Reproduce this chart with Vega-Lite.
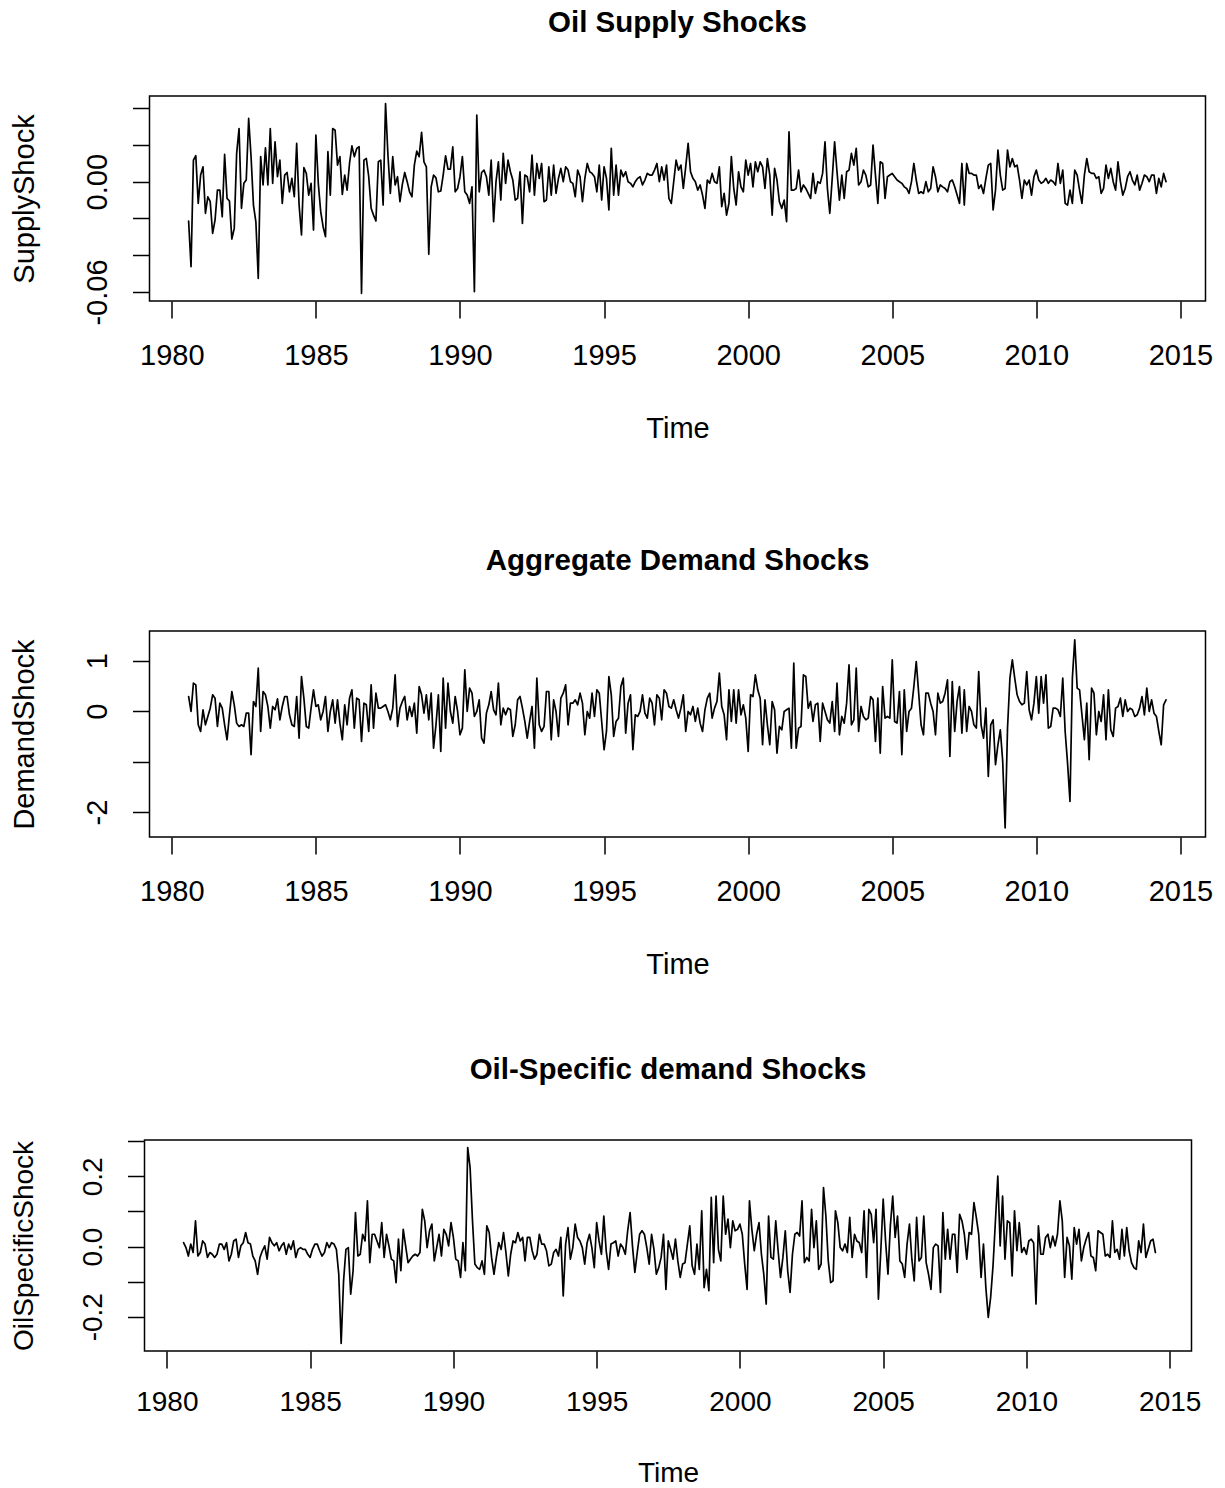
{
"$schema": "https://vega.github.io/schema/vega-lite/v6.json",
"background": "white",
"padding": {"left": 2.5, "top": 6, "right": 5, "bottom": 0},
"autosize": {"type": "pad"},
"data": {"values": [
{"t":1980.583,"a":-0.0214,"b":0.29,"c":0.011},
{"t":1980.667,"a":-0.0462,"b":-0.007,"c":-0.003},
{"t":1980.75,"a":0.0117,"b":0.554,"c":-0.027},
{"t":1980.833,"a":0.0141,"b":0.521,"c":0.007},
{"t":1980.917,"a":-0.0118,"b":-0.271,"c":-0.017},
{"t":1981,"a":0.0036,"b":-0.403,"c":0.073},
{"t":1981.083,"a":0.0081,"b":0.026,"c":-0.027},
{"t":1981.167,"a":-0.0172,"b":-0.271,"c":-0.017},
{"t":1981.25,"a":-0.0082,"b":-0.106,"c":0.016},
{"t":1981.333,"a":-0.0109,"b":0.059,"c":0.007},
{"t":1981.417,"a":-0.0281,"b":0.323,"c":-0.031},
{"t":1981.5,"a":-0.0209,"b":0.257,"c":-0.017},
{"t":1981.583,"a":-0.0046,"b":-0.304,"c":-0.022},
{"t":1981.667,"a":-0.0046,"b":0.158,"c":-0.031},
{"t":1981.75,"a":-0.0191,"b":0.059,"c":-0.022},
{"t":1981.833,"a":0.0148,"b":-0.271,"c":0.007},
{"t":1981.917,"a":-0.0091,"b":-0.568,"c":0.007},
{"t":1982,"a":-0.0105,"b":-0.073,"c":-0.008},
{"t":1982.083,"a":-0.0312,"b":0.389,"c":0.011},
{"t":1982.167,"a":-0.0254,"b":0.125,"c":-0.041},
{"t":1982.25,"a":0.0154,"b":-0.238,"c":-0.022},
{"t":1982.333,"a":0.0289,"b":-0.304,"c":0.016},
{"t":1982.417,"a":-0.0145,"b":-0.271,"c":0.021},
{"t":1982.5,"a":-0.0009,"b":-0.304,"c":-0.031},
{"t":1982.583,"a":0.0009,"b":-0.04,"c":0.002},
{"t":1982.667,"a":0.0344,"b":-0.04,"c":0.011},
{"t":1982.75,"a":0.0136,"b":-0.865,"c":0.04},
{"t":1982.833,"a":-0.0127,"b":0.191,"c":0.011},
{"t":1982.917,"a":-0.0218,"b":0.092,"c":0.007},
{"t":1983,"a":-0.0526,"b":0.851,"c":-0.027},
{"t":1983.083,"a":0.0136,"b":-0.403,"c":-0.041},
{"t":1983.167,"a":-0.0018,"b":0.389,"c":-0.079},
{"t":1983.25,"a":0.0184,"b":0.323,"c":-0.031},
{"t":1983.333,"a":-0.0018,"b":0.092,"c":-0.012},
{"t":1983.417,"a":0.0289,"b":-0.337,"c":0.002},
{"t":1983.5,"a":-0.0009,"b":0.092,"c":-0.036},
{"t":1983.583,"a":0.0217,"b":0.026,"c":0.026},
{"t":1983.667,"a":0.0027,"b":0.244,"c":0.011},
{"t":1983.75,"a":0.0117,"b":-0.172,"c":0.002},
{"t":1983.833,"a":-0.0118,"b":0.092,"c":0.011},
{"t":1983.917,"a":0.0036,"b":0.29,"c":-0.012},
{"t":1984,"a":0.005,"b":0.29,"c":0.002},
{"t":1984.083,"a":-0.0055,"b":-0.073,"c":0.011},
{"t":1984.167,"a":0.0018,"b":-0.271,"c":-0.022},
{"t":1984.25,"a":-0.0082,"b":-0.304,"c":0.007},
{"t":1984.333,"a":0.0208,"b":0.29,"c":-0.008},
{"t":1984.417,"a":-0.0127,"b":-0.535,"c":0.016},
{"t":1984.5,"a":-0.029,"b":0.686,"c":-0.031},
{"t":1984.583,"a":0.0076,"b":0.257,"c":-0.008},
{"t":1984.667,"a":0.0045,"b":-0.304,"c":-0.003},
{"t":1984.75,"a":-0.0073,"b":-0.337,"c":-0.008},
{"t":1984.833,"a":-0.0009,"b":0.059,"c":-0.008},
{"t":1984.917,"a":-0.0263,"b":0.422,"c":-0.022},
{"t":1985,"a":0.0253,"b":0.092,"c":-0.031},
{"t":1985.083,"a":-0.0009,"b":0.125,"c":-0.008},
{"t":1985.167,"a":-0.0163,"b":-0.172,"c":0.007},
{"t":1985.25,"a":-0.0245,"b":-0.007,"c":0.007},
{"t":1985.333,"a":-0.0299,"b":0.29,"c":-0.012},
{"t":1985.417,"a":0.0163,"b":-0.403,"c":-0.027},
{"t":1985.5,"a":-0.0073,"b":-0.007,"c":-0.017},
{"t":1985.583,"a":0.0289,"b":0.224,"c":0.011},
{"t":1985.667,"a":0.028,"b":-0.238,"c":-0.003},
{"t":1985.75,"a":0.009,"b":0.224,"c":0.011},
{"t":1985.833,"a":0.0136,"b":-0.238,"c":0.007},
{"t":1985.917,"a":-0.0069,"b":-0.568,"c":-0.008},
{"t":1986,"a":0.0036,"b":0.125,"c":-0.079},
{"t":1986.083,"a":-0.0046,"b":-0.271,"c":-0.276},
{"t":1986.167,"a":0.0099,"b":0.257,"c":-0.098},
{"t":1986.25,"a":0.0195,"b":0.422,"c":-0.008},
{"t":1986.333,"a":0.0136,"b":-0.337,"c":-0.003},
{"t":1986.417,"a":0.0181,"b":0.257,"c":-0.136},
{"t":1986.5,"a":0.019,"b":0.224,"c":-0.069},
{"t":1986.583,"a":-0.0607,"b":-0.601,"c":0.097},
{"t":1986.667,"a":0.0117,"b":0.158,"c":-0.027},
{"t":1986.75,"a":0.0126,"b":0.125,"c":-0.022},
{"t":1986.833,"a":0.0027,"b":-0.403,"c":0.035},
{"t":1986.917,"a":-0.0145,"b":0.521,"c":0.016},
{"t":1987,"a":-0.0182,"b":-0.337,"c":0.13},
{"t":1987.083,"a":-0.0214,"b":0.356,"c":-0.046},
{"t":1987.167,"a":0.0108,"b":0.059,"c":0.035},
{"t":1987.25,"a":0.0117,"b":0.059,"c":0.035},
{"t":1987.333,"a":-0.0127,"b":0.092,"c":0.016},
{"t":1987.417,"a":0.0425,"b":0.125,"c":-0.003},
{"t":1987.5,"a":0.0145,"b":-0.007,"c":0.068},
{"t":1987.583,"a":-0.0064,"b":-0.172,"c":-0.031},
{"t":1987.667,"a":0.0136,"b":0.059,"c":0.035},
{"t":1987.75,"a":-0.0018,"b":0.719,"c":0.002},
{"t":1987.833,"a":0.0027,"b":-0.304,"c":-0.036},
{"t":1987.917,"a":-0.0109,"b":0.059,"c":-0.041},
{"t":1988,"a":-0.0015,"b":0.191,"c":-0.103},
{"t":1988.083,"a":0.005,"b":0.29,"c":0.021},
{"t":1988.167,"a":0,"b":-0.172,"c":-0.069},
{"t":1988.25,"a":-0.0055,"b":0.092,"c":0.049},
{"t":1988.333,"a":-0.0082,"b":-0.106,"c":0.002},
{"t":1988.417,"a":0.009,"b":0.158,"c":-0.046},
{"t":1988.5,"a":0.0166,"b":-0.436,"c":-0.036},
{"t":1988.583,"a":0.0136,"b":0.488,"c":-0.027},
{"t":1988.667,"a":0.0268,"b":0.323,"c":-0.022},
{"t":1988.75,"a":0.0108,"b":-0.04,"c":-0.027},
{"t":1988.833,"a":0.0081,"b":0.323,"c":-0.017},
{"t":1988.917,"a":-0.0395,"b":-0.172,"c":0.106},
{"t":1989,"a":-0.0028,"b":0.356,"c":0.073},
{"t":1989.083,"a":0.0036,"b":-0.733,"c":-0.003},
{"t":1989.167,"a":0.0021,"b":-0.271,"c":0.045},
{"t":1989.25,"a":-0.0055,"b":0.323,"c":0.064},
{"t":1989.333,"a":-0.0051,"b":-0.799,"c":-0.041},
{"t":1989.417,"a":0.0036,"b":0.653,"c":-0.003},
{"t":1989.5,"a":0.0141,"b":-0.337,"c":0.035},
{"t":1989.583,"a":0.0068,"b":0.554,"c":-0.027},
{"t":1989.667,"a":0.0068,"b":-0.007,"c":0.049},
{"t":1989.75,"a":0.019,"b":-0.238,"c":0.035},
{"t":1989.833,"a":-0.0055,"b":0.29,"c":0.002},
{"t":1989.917,"a":-0.0037,"b":-0.007,"c":0.068},
{"t":1990,"a":0.0027,"b":-0.469,"c":0.026},
{"t":1990.083,"a":0.0136,"b":-0.337,"c":-0.036},
{"t":1990.167,"a":-0.0055,"b":0.818,"c":-0.041},
{"t":1990.25,"a":-0.0073,"b":-0.007,"c":-0.088},
{"t":1990.333,"a":-0.0118,"b":0.455,"c":0.011},
{"t":1990.417,"a":-0.0028,"b":0.356,"c":-0.069},
{"t":1990.5,"a":-0.0598,"b":-0.106,"c":0.282},
{"t":1990.583,"a":0.0362,"b":-0.007,"c":0.225},
{"t":1990.667,"a":-0.0055,"b":0.224,"c":0.073},
{"t":1990.75,"a":0.005,"b":-0.535,"c":-0.05},
{"t":1990.833,"a":0.0063,"b":-0.634,"c":-0.06},
{"t":1990.917,"a":0.0027,"b":-0.04,"c":-0.065},
{"t":1991,"a":-0.0073,"b":0.125,"c":-0.041},
{"t":1991.083,"a":0.0117,"b":0.389,"c":-0.079},
{"t":1991.167,"a":-0.0218,"b":0.026,"c":0.059},
{"t":1991.25,"a":0,"b":-0.073,"c":0.04},
{"t":1991.333,"a":0.0108,"b":0.554,"c":-0.031},
{"t":1991.417,"a":-0.01,"b":-0.271,"c":-0.079},
{"t":1991.5,"a":0.0154,"b":0.059,"c":-0.031},
{"t":1991.583,"a":-0.0009,"b":-0.073,"c":0.011},
{"t":1991.667,"a":0.0117,"b":0.059,"c":-0.008},
{"t":1991.75,"a":0.0054,"b":0.026,"c":0.04},
{"t":1991.833,"a":0.0009,"b":-0.502,"c":-0.017},
{"t":1991.917,"a":-0.01,"b":-0.271,"c":-0.084},
{"t":1992,"a":-0.0091,"b":0.224,"c":-0.022},
{"t":1992.083,"a":0.0054,"b":0.29,"c":0.016},
{"t":1992.167,"a":-0.0227,"b":0.059,"c":0.011},
{"t":1992.25,"a":0.0036,"b":-0.205,"c":0.04},
{"t":1992.333,"a":0.0027,"b":-0.535,"c":0.016},
{"t":1992.417,"a":-0.0055,"b":-0.205,"c":0.026},
{"t":1992.5,"a":0.0145,"b":0.092,"c":-0.041},
{"t":1992.583,"a":-0.0073,"b":-0.733,"c":0.026},
{"t":1992.667,"a":0.0099,"b":0.653,"c":0.026},
{"t":1992.75,"a":0.0018,"b":-0.271,"c":-0.012},
{"t":1992.833,"a":0.0099,"b":-0.403,"c":-0.036},
{"t":1992.917,"a":-0.0109,"b":-0.304,"c":-0.022},
{"t":1993,"a":-0.01,"b":0.389,"c":0.035},
{"t":1993.083,"a":0.0081,"b":0.389,"c":0.007},
{"t":1993.167,"a":-0.0073,"b":-0.568,"c":0.007},
{"t":1993.25,"a":0.009,"b":0.224,"c":-0.012},
{"t":1993.333,"a":-0.0064,"b":-0.007,"c":-0.055},
{"t":1993.417,"a":0.0018,"b":-0.502,"c":-0.05},
{"t":1993.5,"a":0.0072,"b":0.257,"c":-0.017},
{"t":1993.583,"a":0,"b":0.356,"c":-0.008},
{"t":1993.667,"a":0.0081,"b":0.521,"c":-0.027},
{"t":1993.75,"a":0.0063,"b":-0.271,"c":0.026},
{"t":1993.833,"a":0,"b":0.158,"c":-0.141},
{"t":1993.917,"a":-0.0009,"b":0.158,"c":0.007},
{"t":1994,"a":-0.0082,"b":0.224,"c":0.054},
{"t":1994.083,"a":0.0063,"b":0.125,"c":-0.036},
{"t":1994.167,"a":0.0027,"b":0.356,"c":-0.003},
{"t":1994.25,"a":-0.0109,"b":0.158,"c":0.064},
{"t":1994.333,"a":0.0018,"b":-0.469,"c":0.026},
{"t":1994.417,"a":0.0099,"b":-0.007,"c":0.016},
{"t":1994.5,"a":0.0054,"b":-0.139,"c":-0.003},
{"t":1994.583,"a":0.0045,"b":0.356,"c":-0.05},
{"t":1994.667,"a":0.0027,"b":-0.106,"c":0.011},
{"t":1994.75,"a":-0.0055,"b":0.422,"c":0.035},
{"t":1994.833,"a":0.009,"b":0.356,"c":-0.003},
{"t":1994.917,"a":-0.01,"b":-0.205,"c":-0.06},
{"t":1995,"a":0.0081,"b":-0.766,"c":0.068},
{"t":1995.083,"a":0.0018,"b":-0.403,"c":0.016},
{"t":1995.167,"a":-0.0154,"b":0.686,"c":-0.022},
{"t":1995.25,"a":0.0181,"b":0.323,"c":0.087},
{"t":1995.333,"a":-0.0073,"b":-0.502,"c":-0.012},
{"t":1995.417,"a":0.009,"b":-0.205,"c":-0.065},
{"t":1995.5,"a":-0.0073,"b":-0.139,"c":0.007},
{"t":1995.583,"a":0.0063,"b":0.488,"c":0.011},
{"t":1995.667,"a":0.0027,"b":0.653,"c":0.016},
{"t":1995.75,"a":0.0054,"b":-0.436,"c":-0.027},
{"t":1995.833,"a":0,"b":0.158,"c":0.007},
{"t":1995.917,"a":-0.0009,"b":0.323,"c":-0.003},
{"t":1996,"a":-0.0028,"b":-0.766,"c":-0.022},
{"t":1996.083,"a":0,"b":-0.073,"c":0.045},
{"t":1996.167,"a":0.0018,"b":-0.106,"c":0.097},
{"t":1996.25,"a":0.0027,"b":-0.007,"c":0.002},
{"t":1996.333,"a":-0.0018,"b":0.323,"c":-0.074},
{"t":1996.417,"a":0.0009,"b":-0.04,"c":-0.017},
{"t":1996.5,"a":0.0045,"b":-0.139,"c":0.035},
{"t":1996.583,"a":0.0036,"b":0.257,"c":0.045},
{"t":1996.667,"a":0.0036,"b":0.158,"c":0.035},
{"t":1996.75,"a":0.0063,"b":-0.271,"c":-0.003},
{"t":1996.833,"a":0.0099,"b":0.323,"c":-0.05},
{"t":1996.917,"a":0,"b":0.257,"c":0.035},
{"t":1997,"a":0.0081,"b":-0.172,"c":-0.008},
{"t":1997.083,"a":0.0009,"b":0.422,"c":-0.079},
{"t":1997.167,"a":0.009,"b":0.356,"c":-0.06},
{"t":1997.25,"a":-0.0091,"b":0.092,"c":-0.031},
{"t":1997.333,"a":-0.0118,"b":0.059,"c":0.035},
{"t":1997.417,"a":0,"b":0.224,"c":-0.122},
{"t":1997.5,"a":0.0117,"b":0.026,"c":0.016},
{"t":1997.583,"a":0.0063,"b":-0.139,"c":-0.008},
{"t":1997.667,"a":0.009,"b":0.059,"c":-0.036},
{"t":1997.75,"a":-0.0037,"b":0.323,"c":0.021},
{"t":1997.833,"a":0.0081,"b":-0.403,"c":-0.041},
{"t":1997.917,"a":0.0208,"b":-0.007,"c":-0.088},
{"t":1998,"a":0.0054,"b":-0.073,"c":-0.05},
{"t":1998.083,"a":0.0018,"b":0.092,"c":-0.046},
{"t":1998.167,"a":0,"b":-0.205,"c":0.007},
{"t":1998.25,"a":-0.0046,"b":0.059,"c":0.059},
{"t":1998.333,"a":-0.0018,"b":-0.238,"c":-0.055},
{"t":1998.417,"a":-0.0073,"b":-0.403,"c":-0.079},
{"t":1998.5,"a":-0.0145,"b":0.026,"c":0.007},
{"t":1998.583,"a":0.0009,"b":0.257,"c":-0.065},
{"t":1998.667,"a":-0.0009,"b":0.356,"c":0.102},
{"t":1998.75,"a":0.0045,"b":-0.139,"c":-0.117},
{"t":1998.833,"a":0,"b":0.059,"c":-0.065},
{"t":1998.917,"a":-0.0009,"b":0.191,"c":-0.126},
{"t":1999,"a":0.0081,"b":0.752,"c":0.14},
{"t":1999.083,"a":-0.0136,"b":0.092,"c":-0.046},
{"t":1999.167,"a":-0.0064,"b":-0.073,"c":0.144},
{"t":1999.25,"a":-0.0182,"b":-0.568,"c":-0.008},
{"t":1999.333,"a":-0.0118,"b":0.422,"c":-0.041},
{"t":1999.417,"a":0.0136,"b":-0.205,"c":0.144},
{"t":1999.5,"a":-0.0037,"b":0.422,"c":0.035},
{"t":1999.583,"a":-0.0127,"b":-0.238,"c":0.078},
{"t":1999.667,"a":0.0054,"b":0.422,"c":-0.003},
{"t":1999.75,"a":-0.0028,"b":-0.073,"c":0.073},
{"t":1999.833,"a":-0.0055,"b":0.125,"c":0.045},
{"t":1999.917,"a":0.0117,"b":-0.139,"c":0.049},
{"t":2000,"a":0.0036,"b":-0.799,"c":0.064},
{"t":2000.083,"a":0.0099,"b":0.323,"c":0.035},
{"t":2000.167,"a":-0.0028,"b":0.29,"c":-0.05},
{"t":2000.25,"a":0.0108,"b":0.719,"c":-0.122},
{"t":2000.333,"a":0.0054,"b":0.422,"c":0.13},
{"t":2000.417,"a":0.0108,"b":0.257,"c":0.049},
{"t":2000.5,"a":0.0081,"b":-0.667,"c":-0.012},
{"t":2000.583,"a":-0.0037,"b":0.224,"c":0.035},
{"t":2000.667,"a":0.0126,"b":-0.271,"c":0.068},
{"t":2000.75,"a":0.0036,"b":-0.667,"c":-0.022},
{"t":2000.833,"a":-0.0182,"b":0.191,"c":-0.079},
{"t":2000.917,"a":0.0072,"b":0.026,"c":-0.164},
{"t":2001,"a":0.0009,"b":-0.832,"c":0.087},
{"t":2001.083,"a":-0.0109,"b":-0.304,"c":-0.031},
{"t":2001.167,"a":-0.0145,"b":-0.37,"c":-0.036},
{"t":2001.25,"a":-0.01,"b":-0.007,"c":0.073},
{"t":2001.333,"a":-0.0218,"b":0.026,"c":-0.012},
{"t":2001.417,"a":0.0271,"b":0.059,"c":-0.088},
{"t":2001.5,"a":-0.0046,"b":-0.733,"c":-0.031},
{"t":2001.583,"a":-0.0046,"b":0.95,"c":0.045},
{"t":2001.667,"a":-0.0037,"b":-0.733,"c":-0.069},
{"t":2001.75,"a":0.0063,"b":-0.337,"c":-0.131},
{"t":2001.833,"a":-0.0055,"b":-0.304,"c":-0.022},
{"t":2001.917,"a":-0.0018,"b":0.719,"c":0.035},
{"t":2002,"a":-0.0037,"b":0.686,"c":0.04},
{"t":2002.083,"a":-0.0064,"b":0.059,"c":0.03},
{"t":2002.167,"a":-0.0091,"b":0.191,"c":0.13},
{"t":2002.25,"a":0.0045,"b":-0.205,"c":-0.046},
{"t":2002.333,"a":-0.0064,"b":0.125,"c":-0.031},
{"t":2002.417,"a":0,"b":0.158,"c":-0.041},
{"t":2002.5,"a":-0.0009,"b":-0.601,"c":0.106},
{"t":2002.583,"a":0.0045,"b":0.158,"c":-0.003},
{"t":2002.667,"a":0.0217,"b":-0.007,"c":0.073},
{"t":2002.75,"a":-0.0037,"b":-0.172,"c":-0.065},
{"t":2002.833,"a":-0.0172,"b":-0.238,"c":-0.05},
{"t":2002.917,"a":0.0018,"b":0.191,"c":0.168},
{"t":2003,"a":0.0217,"b":-0.403,"c":0.087},
{"t":2003.083,"a":0.0054,"b":0.554,"c":-0.041},
{"t":2003.167,"a":-0.01,"b":-0.469,"c":-0.103},
{"t":2003.25,"a":0.0036,"b":-0.106,"c":-0.098},
{"t":2003.333,"a":-0.0091,"b":-0.238,"c":0.102},
{"t":2003.417,"a":0.0054,"b":0.158,"c":0.068},
{"t":2003.5,"a":0.0063,"b":0.917,"c":-0.003},
{"t":2003.583,"a":0.0154,"b":-0.271,"c":-0.012},
{"t":2003.667,"a":0.009,"b":-0.172,"c":0.007},
{"t":2003.75,"a":0.0181,"b":0.851,"c":-0.017},
{"t":2003.833,"a":-0.0018,"b":-0.403,"c":0.083},
{"t":2003.917,"a":0,"b":0.092,"c":-0.031},
{"t":2004,"a":0.0063,"b":-0.106,"c":0.035},
{"t":2004.083,"a":0.0036,"b":-0.172,"c":0.016},
{"t":2004.167,"a":-0.0028,"b":-0.139,"c":0.011},
{"t":2004.25,"a":-0.0018,"b":0.29,"c":-0.017},
{"t":2004.333,"a":0.0199,"b":0.224,"c":0.102},
{"t":2004.417,"a":0.0036,"b":-0.601,"c":-0.088},
{"t":2004.5,"a":-0.0118,"b":0.257,"c":0.106},
{"t":2004.583,"a":0.0108,"b":-0.832,"c":0.092},
{"t":2004.667,"a":0.0099,"b":0.488,"c":0.011},
{"t":2004.75,"a":-0.0091,"b":-0.139,"c":0.106},
{"t":2004.833,"a":0.0027,"b":-0.106,"c":-0.15},
{"t":2004.917,"a":0.0036,"b":-0.139,"c":-0.012},
{"t":2005,"a":0.0045,"b":1.017,"c":0.135},
{"t":2005.083,"a":0.0027,"b":-0.205,"c":0.016},
{"t":2005.167,"a":0.0009,"b":-0.238,"c":-0.079},
{"t":2005.25,"a":0,"b":0.389,"c":0.059},
{"t":2005.333,"a":-0.0009,"b":-0.865,"c":0.144},
{"t":2005.417,"a":-0.0028,"b":0.422,"c":0.026},
{"t":2005.5,"a":-0.0037,"b":-0.403,"c":0.087},
{"t":2005.583,"a":-0.0064,"b":-0.007,"c":-0.041},
{"t":2005.667,"a":0,"b":0.059,"c":-0.05},
{"t":2005.75,"a":0.0099,"b":0.488,"c":-0.088},
{"t":2005.833,"a":0.0009,"b":0.983,"c":0.007},
{"t":2005.917,"a":-0.0064,"b":0.356,"c":0.064},
{"t":2006,"a":-0.0055,"b":-0.271,"c":-0.036},
{"t":2006.083,"a":-0.0064,"b":-0.469,"c":-0.098},
{"t":2006.167,"a":0,"b":0.356,"c":0.083},
{"t":2006.25,"a":-0.0055,"b":0.356,"c":-0.041},
{"t":2006.333,"a":-0.0037,"b":0.158,"c":-0.031},
{"t":2006.417,"a":0.0081,"b":-0.007,"c":0.087},
{"t":2006.5,"a":0.0027,"b":-0.469,"c":-0.046},
{"t":2006.583,"a":-0.0055,"b":0.356,"c":-0.079},
{"t":2006.667,"a":-0.0018,"b":0.158,"c":-0.122},
{"t":2006.75,"a":-0.0028,"b":0.191,"c":-0.003},
{"t":2006.833,"a":-0.0037,"b":0.356,"c":0.007},
{"t":2006.917,"a":-0.0055,"b":0.62,"c":0.002},
{"t":2007,"a":0,"b":-0.898,"c":-0.131},
{"t":2007.083,"a":0.0009,"b":0.587,"c":0.097},
{"t":2007.167,"a":-0.0028,"b":-0.403,"c":-0.036},
{"t":2007.25,"a":-0.0073,"b":0.191,"c":0.049},
{"t":2007.333,"a":-0.0118,"b":0.488,"c":-0.036},
{"t":2007.417,"a":0.0099,"b":-0.436,"c":0.035},
{"t":2007.5,"a":-0.0127,"b":0.422,"c":0.035},
{"t":2007.583,"a":0.0099,"b":-0.403,"c":-0.074},
{"t":2007.667,"a":0.0045,"b":0.092,"c":0.092},
{"t":2007.75,"a":0.0045,"b":-0.007,"c":0.073},
{"t":2007.833,"a":0.0036,"b":-0.271,"c":0.035},
{"t":2007.917,"a":0.0036,"b":-0.337,"c":-0.036},
{"t":2008,"a":-0.0037,"b":0.785,"c":0.04},
{"t":2008.083,"a":-0.0018,"b":-0.271,"c":0.035},
{"t":2008.167,"a":-0.0064,"b":-0.535,"c":0.125},
{"t":2008.25,"a":0.0018,"b":0.059,"c":0.083},
{"t":2008.333,"a":0.009,"b":-1.294,"c":0.035},
{"t":2008.417,"a":0.0099,"b":-0.271,"c":-0.088},
{"t":2008.5,"a":-0.0154,"b":-0.172,"c":0.007},
{"t":2008.583,"a":-0.0046,"b":-1.063,"c":-0.117},
{"t":2008.667,"a":0.0172,"b":-0.667,"c":-0.202},
{"t":2008.75,"a":0.0036,"b":-0.37,"c":-0.145},
{"t":2008.833,"a":-0.0046,"b":-0.997,"c":-0.055},
{"t":2008.917,"a":-0.0037,"b":-2.317,"c":0.073},
{"t":2009,"a":0.0172,"b":-0.337,"c":0.201},
{"t":2009.083,"a":0.0081,"b":0.653,"c":0.002},
{"t":2009.167,"a":0.0126,"b":1.017,"c":0.144},
{"t":2009.25,"a":0.0081,"b":0.653,"c":-0.036},
{"t":2009.333,"a":0.009,"b":0.323,"c":0.073},
{"t":2009.417,"a":0.0009,"b":0.191,"c":0.068},
{"t":2009.5,"a":-0.0091,"b":0.125,"c":-0.084},
{"t":2009.583,"a":0.0009,"b":0.158,"c":0.102},
{"t":2009.667,"a":-0.0018,"b":0.785,"c":-0.012},
{"t":2009.75,"a":0.0009,"b":0.026,"c":0.068},
{"t":2009.833,"a":-0.0073,"b":-0.172,"c":-0.017},
{"t":2009.917,"a":0.0027,"b":0.158,"c":-0.003},
{"t":2010,"a":0.0063,"b":0.686,"c":-0.022},
{"t":2010.083,"a":0.0009,"b":-0.04,"c":0.016},
{"t":2010.167,"a":-0.0009,"b":0.686,"c":0.021},
{"t":2010.25,"a":0,"b":0.158,"c":0.011},
{"t":2010.333,"a":0.0018,"b":0.719,"c":-0.164},
{"t":2010.417,"a":-0.0009,"b":-0.337,"c":0.059},
{"t":2010.5,"a":0.0009,"b":-0.304,"c":-0.022},
{"t":2010.583,"a":0,"b":0.059,"c":-0.022},
{"t":2010.667,"a":-0.0018,"b":0.059,"c":0.026},
{"t":2010.75,"a":0.0099,"b":0.026,"c":0.035},
{"t":2010.833,"a":-0.0009,"b":-0.106,"c":-0.003},
{"t":2010.917,"a":0.0063,"b":0.653,"c":0.03},
{"t":2011,"a":-0.0118,"b":-0.403,"c":0.002},
{"t":2011.083,"a":-0.0127,"b":-1.03,"c":0.035},
{"t":2011.167,"a":-0.0046,"b":-1.789,"c":0.13},
{"t":2011.25,"a":-0.0118,"b":0.653,"c":0.073},
{"t":2011.333,"a":0.0063,"b":1.413,"c":-0.088},
{"t":2011.417,"a":0.0036,"b":0.455,"c":0.026},
{"t":2011.5,"a":-0.0046,"b":0.422,"c":0.002},
{"t":2011.583,"a":-0.0118,"b":-0.073,"c":-0.093},
{"t":2011.667,"a":0.0036,"b":-0.568,"c":0.054},
{"t":2011.75,"a":0.0126,"b":0.158,"c":0.007},
{"t":2011.833,"a":0.0054,"b":-0.964,"c":0.049},
{"t":2011.917,"a":0.0045,"b":0.455,"c":-0.041},
{"t":2012,"a":0.0045,"b":0.356,"c":-0.003},
{"t":2012.083,"a":0.0018,"b":-0.469,"c":0.021},
{"t":2012.167,"a":0.0027,"b":-0.007,"c":0.04},
{"t":2012.25,"a":-0.0064,"b":-0.205,"c":-0.027},
{"t":2012.333,"a":-0.0037,"b":0.323,"c":-0.031},
{"t":2012.417,"a":0.009,"b":-0.568,"c":-0.069},
{"t":2012.5,"a":0.0018,"b":0.422,"c":0.045},
{"t":2012.583,"a":0.0072,"b":-0.37,"c":0.04},
{"t":2012.667,"a":0,"b":-0.502,"c":0.035},
{"t":2012.75,"a":-0.0046,"b":0.059,"c":-0.027},
{"t":2012.833,"a":0.0108,"b":0.092,"c":-0.022},
{"t":2012.917,"a":0,"b":0.257,"c":-0.031},
{"t":2013,"a":-0.0073,"b":-0.106,"c":0.073},
{"t":2013.083,"a":-0.0037,"b":0.224,"c":-0.017},
{"t":2013.167,"a":0.0027,"b":-0.007,"c":-0.008},
{"t":2013.25,"a":0.0054,"b":0.059,"c":-0.036},
{"t":2013.333,"a":0.0009,"b":0.026,"c":0.049},
{"t":2013.417,"a":-0.0018,"b":-0.106,"c":-0.027},
{"t":2013.5,"a":0.0036,"b":-0.073,"c":0.054},
{"t":2013.583,"a":-0.0046,"b":0.059,"c":-0.012},
{"t":2013.667,"a":-0.0009,"b":0.29,"c":-0.046},
{"t":2013.75,"a":0.0036,"b":-0.073,"c":-0.06},
{"t":2013.833,"a":0.0027,"b":0.455,"c":-0.065},
{"t":2013.917,"a":0,"b":-0.007,"c":0.016},
{"t":2014,"a":0.0036,"b":0.224,"c":-0.017},
{"t":2014.083,"a":0.0036,"b":-0.04,"c":0.064},
{"t":2014.167,"a":-0.0064,"b":-0.106,"c":-0.031},
{"t":2014.25,"a":0.0018,"b":-0.403,"c":-0.008},
{"t":2014.333,"a":-0.0028,"b":-0.667,"c":0.016},
{"t":2014.417,"a":0.0045,"b":0.125,"c":0.021},
{"t":2014.5,"a":0,"b":0.224,"c":-0.017}
]},
"config": {
  "font": "Liberation Sans",
  "view": {"stroke": "black", "strokeWidth": 1.5},
  "axis": {
    "grid": false, "domain": false,
    "tickColor": "black", "tickWidth": 1.5, "tickSize": 17,
    "labelColor": "black", "labelFont": "Liberation Sans", "labelFontSize": 29,
    "labelOverlap": false, "labelFlush": false, "labelBound": false,
    "titleColor": "black", "titleFont": "Liberation Sans", "titleFontSize": 29, "titleFontWeight": "normal"
  },
  "axisY": {"labelAngle": 270, "labelAlign": "center", "labelBaseline": "alphabetic"},
  "title": {"font": "Liberation Sans", "fontSize": 29.5, "fontWeight": "bold", "color": "black", "anchor": "middle", "frame": "group", "baseline": "bottom"},
  "line": {"color": "black", "strokeWidth": 1.7, "strokeJoin": "round", "strokeCap": "round"}
},
"concat": [
  {
    "hconcat": [
      {"width": 1, "height": 1, "view": {"stroke": null}, "data": {"values": [{"k": 0}]}, "mark": {"type": "point", "opacity": 0}, "encoding": {}},
      {
        "concat": [
          {
            "width": 1056, "height": 205,
            "title": {"text": "Oil Supply Shocks", "offset": 58},
            "mark": {"type": "line"},
            "encoding": {
              "x": {"field": "t", "type": "quantitative", "scale": {"domain": [1979.226, 2015.87], "nice": false, "zero": false},
                    "axis": {"title": "Time", "values": [1980,1985,1990,1995,2000,2005,2010,2015], "format": "d", "labelPadding": 23, "titlePadding": 44}},
              "y": {"field": "a", "type": "quantitative", "scale": {"domain": [-0.0649, 0.0466], "nice": false, "zero": false},
                    "axis": {"title": "SupplyShock", "values": [-0.06,-0.04,-0.02,0,0.02,0.04], "labelExpr": "datum.value === 0 ? '0.00' : datum.value === -0.06 ? '-0.06' : ''", "labelPadding": 26, "titlePadding": 44}}
            }
          },
          {
            "width": 1056, "height": 206,
            "title": {"text": "Aggregate Demand Shocks", "offset": 55},
            "mark": {"type": "line"},
            "encoding": {
              "x": {"field": "t", "type": "quantitative", "scale": {"domain": [1979.226, 2015.87], "nice": false, "zero": false},
                    "axis": {"title": "Time", "values": [1980,1985,1990,1995,2000,2005,2010,2015], "format": "d", "labelPadding": 23, "titlePadding": 44}},
              "y": {"field": "b", "type": "quantitative", "scale": {"domain": [-2.495, 1.588], "nice": false, "zero": false},
                    "axis": {"title": "DemandShock", "values": [-2,-1,0,1], "labelExpr": "datum.value === 1 ? '1' : datum.value === 0 ? '0' : datum.value === -2 ? '-2' : ''", "labelPadding": 26, "titlePadding": 44}}
            }
          }
        ],
        "columns": 1, "spacing": 100
      }
    ],
    "spacing": 0
  },
  {
    "hconcat": [
      {"width": 1, "height": 1, "view": {"stroke": null}, "data": {"values": [{"k": 0}]}, "mark": {"type": "point", "opacity": 0}, "encoding": {}},
      {
        "width": 1047, "height": 211,
        "title": {"text": "Oil-Specific demand Shocks", "offset": 55},
        "mark": {"type": "line"},
        "encoding": {
          "x": {"field": "t", "type": "quantitative", "scale": {"domain": [1979.22, 2015.76], "nice": false, "zero": false},
                "axis": {"title": "Time", "values": [1980,1985,1990,1995,2000,2005,2010,2015], "format": "d", "labelFontSize": 28, "titleFontSize": 28, "labelPadding": 20, "titlePadding": 43}},
          "y": {"field": "c", "type": "quantitative", "scale": {"domain": [-0.2977, 0.3037], "nice": false, "zero": false},
                "axis": {"title": "OilSpecificShock", "values": [-0.2,-0.1,0,0.1,0.2,0.3], "labelExpr": "datum.value === 0.2 ? '0.2' : datum.value === 0 ? '0.0' : datum.value === -0.2 ? '-0.2' : ''", "labelFontSize": 28, "titleFontSize": 28, "labelPadding": 26, "titlePadding": 41}}
        }
      }
    ],
    "spacing": 0
  }
],
"columns": 1, "spacing": 73
}
